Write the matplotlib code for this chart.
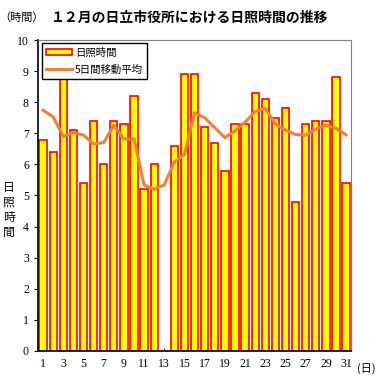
import numpy as np
import matplotlib
matplotlib.use('Agg')
import matplotlib.pyplot as plt

plt.rcParams['font.family'] = ['Noto Sans CJK JP', 'DejaVu Sans']

days = list(range(1, 32))
sunshine = [6.8, 6.4, 8.8, 7.1, 5.4, 7.4, 6.0, 7.4, 7.3, 8.2,
            5.2, 6.0, 0.0, 6.6, 8.9, 8.9, 7.2, 6.7, 5.8, 7.3,
            7.3, 8.3, 8.1, 7.5, 7.8, 4.8, 7.3, 7.4, 7.4, 8.8, 5.4]
# 5日間移動平均
moving_avg = [7.74, 7.53, 6.90, 7.02, 6.94, 6.66, 6.70, 7.26, 6.82, 6.82,
              5.34, 5.20, 5.34, 6.08, 6.32, 7.66, 7.50, 7.18, 6.86, 7.08,
              7.36, 7.70, 7.80, 7.30, 7.10, 6.96, 6.94, 7.14, 7.26, 7.16, 6.95]
xtick_labels = [str(d) for d in days[::2]]

fig = plt.figure(figsize=(3.88, 3.89), dpi=100)
ax = fig.add_axes([0.098, 0.098, 0.807, 0.799])

bars = ax.bar(days, sunshine, width=0.72, color='#FFFF00', edgecolor='#FF0000',
              linewidth=1.2, label='日照時間', zorder=2)
line, = ax.plot(days, moving_avg, color='#F0803A', linewidth=2.2,
                label='5日間移動平均', zorder=3)

ax.set_xlim(0.5, 31.5)
ax.set_ylim(0, 10)
ax.set_yticks(range(0, 11))
ax.set_xticks(days[::2])
ax.set_xticklabels(xtick_labels, family='Liberation Serif', fontsize=8.5)
ax.set_yticklabels([str(v) for v in range(11)], family='Liberation Serif', fontsize=8.5)
ax.tick_params(axis='y', direction='out', length=3, width=0.8)
ax.tick_params(axis='x', direction='in', length=2, width=0.8, pad=5)

for s in ['top', 'right']:
    ax.spines[s].set_color('#808080')
for s in ['left', 'bottom']:
    ax.spines[s].set_color('black')
    ax.spines[s].set_linewidth(1.2)

leg = ax.legend([bars, line], ['日照時間', '5日間移動平均'], loc='upper left',
                bbox_to_anchor=(0.005, 0.997), fontsize=7.5,
                frameon=True, fancybox=False, edgecolor='black', framealpha=1,
                handlelength=2.5, handleheight=0.45, borderpad=0.4,
                labelspacing=0.65, handletextpad=0.3, borderaxespad=0.2)
leg.get_frame().set_linewidth(1.0)

fig.text(0.49, 0.954, '１２月の日立市役所における日照時間の推移', ha='center',
         va='center', fontsize=10, fontweight='bold')
fig.text(0.055, 0.954, '（時間）', ha='center', va='center', fontsize=8)
for i, ch in enumerate('日照時間'):
    fig.text(0.022, 0.519 - i * 0.0386, ch, ha='center', va='center', fontsize=8.5)
fig.text(0.945, 0.052, '(日)', ha='center', va='center', fontsize=8)

fig.savefig('out.png', dpi=100)
